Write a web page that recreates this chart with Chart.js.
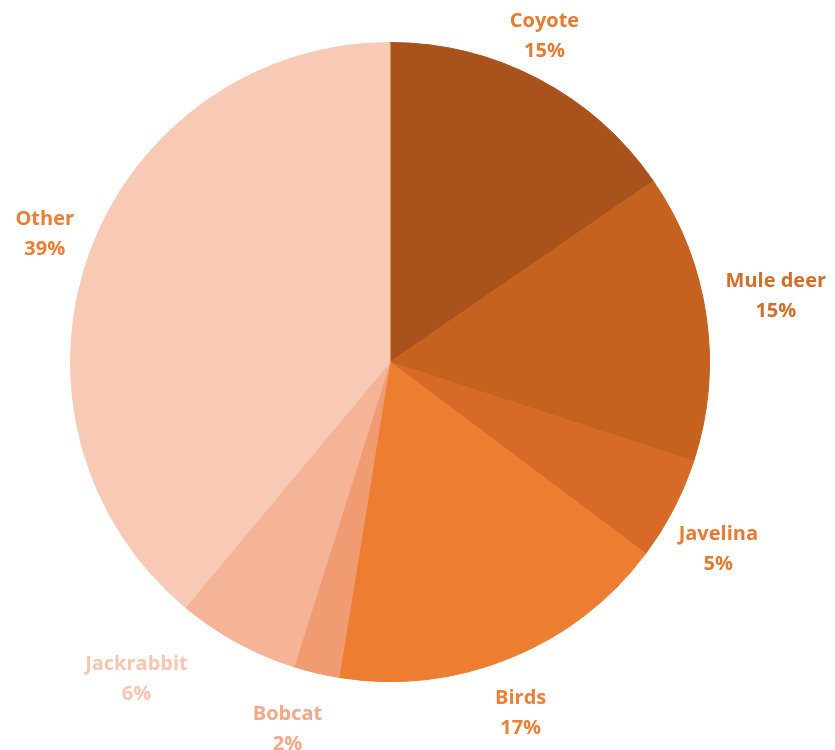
<!DOCTYPE html>
<html><head><meta charset="utf-8">
<script src="https://cdn.jsdelivr.net/npm/chart.js@4/dist/chart.umd.min.js"></script>
<style>html,body{margin:0;padding:0;background:#fff;}canvas{display:block;}</style>
</head><body>
<canvas id="c" width="835" height="750"></canvas>
<script>
const categories = ["Coyote", "Mule deer", "Javelina", "Birds", "Bobcat", "Jackrabbit", "Other"];
const shares = [15.4, 14.6, 5.2, 17.3, 2.3, 6.2, 38.9];
const sliceColors = ["#a9521c", "#c5621f", "#d86a27", "#ec7d31", "#f19b72", "#f5b497", "#f8c9b5"];
const labelColors = ["#e8792f", "#d46d2b", "#e8792f", "#ee8035", "#f3a888", "#f7c5b1", "#ec7d31"];

const total = shares.reduce((a, b) => a + b, 0);

const labelPlugin = {
  id: 'outsideLabels',
  afterDatasetsDraw(chart, args, opts) {
    const ctx = chart.ctx;
    const meta = chart.getDatasetMeta(0);
    const nudge = opts.nudge || [];
    ctx.save();
    ctx.font = 'bold 20px "Open Sans", Lato, sans-serif';
    ctx.textAlign = 'center';
    ctx.textBaseline = 'middle';
    meta.data.forEach((arc, i) => {
      const p = arc.getProps(['x', 'y', 'startAngle', 'endAngle', 'outerRadius'], true);
      const mid = (p.startAngle + p.endAngle) / 2;
      const dx = Math.cos(mid), dy = Math.sin(mid);
      const line1 = categories[i];
      const line2 = Math.round(shares[i] / total * 100) + '%';
      const w = Math.max(ctx.measureText(line1).width, ctx.measureText(line2).width);
      const h = 58;
      const gap = 12;
      const n = nudge[i] || [0, 0];
      const cx = p.x + dx * (p.outerRadius + gap) + dx * w / 2 + n[0];
      const cy = p.y + dy * (p.outerRadius + gap) + dy * h / 2 + n[1];
      ctx.fillStyle = labelColors[i];
      ctx.fillText(line1, cx, cy - 15);
      ctx.fillText(line2, cx, cy + 15);
    });
    ctx.restore();
  }
};

new Chart(document.getElementById('c'), {
  type: 'pie',
  data: {
    labels: categories,
    datasets: [{
      data: shares,
      backgroundColor: sliceColors,
      borderColor: sliceColors,
      borderWidth: 1
    }]
  },
  options: {
    responsive: false,
    animation: false,
    layout: { padding: { left: 70, right: 125, top: 42, bottom: 68 } },
    plugins: {
      legend: { display: false },
      tooltip: { enabled: false },
      outsideLabels: { nudge: [[-16, -7], [8, -14], [-1, 21], [-3, 17], [-18, 17], [-70, 1], [-6, -5]] }
    }
  },
  plugins: [labelPlugin]
});
</script>
</body></html>
